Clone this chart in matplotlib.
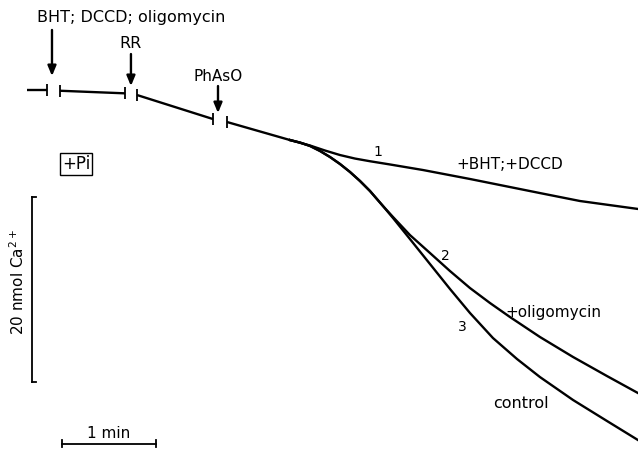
import matplotlib
matplotlib.use("Agg")
import matplotlib.pyplot as plt

# trace segments before the curves split (time in min, Ca2+ signal in nmol)
seg_t = [
    [0.000, 0.213],
    [0.351, 1.043],
    [1.170, 1.979],
    [2.128, 2.798],
]
seg_ca = [
    [0.00, 0.00],
    [-0.08, -0.36],
    [-0.54, -3.14],
    [-3.46, -5.41],
]

# curve 1: +BHT;+DCCD
t1 = [2.798, 3.011, 3.170, 3.330, 3.489, 3.649, 3.862, 4.213, 4.713, 5.457, 5.883, 6.500]
ca1 = [-5.41, -6.00, -6.54, -7.03, -7.41, -7.70, -8.05, -8.65, -9.62, -11.14, -12.00, -12.86]

# common start of curves 2 and 3
t_common = [2.798, 2.904, 3.011, 3.117, 3.223, 3.330, 3.436, 3.543, 3.649, 3.787]
ca_common = [-5.41, -5.68, -6.05, -6.59, -7.24, -8.00, -8.86, -9.84, -10.92, -12.54]

# curve 2: +oligomycin
t2 = [3.894, 4.074, 4.287, 4.500, 4.713, 4.926, 5.138, 5.457, 5.809, 6.170, 6.500]
ca2 = [-13.73, -15.68, -17.62, -19.57, -21.41, -23.03, -24.54, -26.70, -28.86, -30.92, -32.76]

# curve 3: control
t3 = [3.894, 4.074, 4.287, 4.500, 4.713, 4.957, 5.213, 5.457, 5.809, 6.170, 6.500]
ca3 = [-13.84, -16.11, -18.81, -21.51, -24.11, -26.81, -29.08, -31.03, -33.51, -35.78, -37.84]

# additions: label, time of addition
add_labels = ["BHT; DCCD; oligomycin", "RR", "PhAsO"]
add_times = [0.266, 1.106, 2.032]

bar_ca = 20   # nmol Ca2+
bar_t = 1     # min

lw = 1.7
plt.rcParams["font.family"] = "DejaVu Sans"
fig = plt.figure(figsize=(6.38, 4.53), dpi=100)
ax = fig.add_axes([0, 0, 1, 1])
ax.set_xlim(-0.287, 6.500)
ax.set_ylim(-39.24, 9.73)
ax.axis("off")

for i, (ts, cs) in enumerate(zip(seg_t, seg_ca)):
    ax.plot(ts, cs, color="black", lw=lw, solid_capstyle="butt")
    # small end ticks at the breaks
    if i > 0:
        ax.plot(ts[0], cs[0], marker="|", ms=8, mew=1.3, color="black")
    if i < len(seg_t) - 1:
        ax.plot(ts[-1], cs[-1], marker="|", ms=8, mew=1.3, color="black")

ax.plot(t1, ca1, color="black", lw=lw)
ax.plot(t_common + t2, ca_common + ca2, color="black", lw=lw)
ax.plot(t_common + t3, ca_common + ca3, color="black", lw=lw)

# arrows for additions
arrow_tails = [6.49, 3.89, 0.43]
arrow_tips = [1.51, 0.43, -2.49]
for t, tail, tip in zip(add_times, arrow_tails, arrow_tips):
    ax.annotate("", xy=(t, tip), xytext=(t, tail),
                arrowprops=dict(arrowstyle="-|>,head_length=0.6,head_width=0.25",
                                color="black", lw=1.7, shrinkA=0, shrinkB=0))
ax.text(0.106, 7.89, add_labels[0], ha="left", va="center", fontsize=11.5)
ax.text(add_times[1], 5.08, add_labels[1], ha="center", va="center", fontsize=11.5)
ax.text(add_times[2], 1.41, add_labels[2], ha="center", va="center", fontsize=11)

# curve labels
ax.text(3.734, -6.70, "1", ha="center", va="center", fontsize=10)
ax.text(4.564, -8.00, "+BHT;+DCCD", ha="left", va="center", fontsize=11)
ax.text(4.447, -17.95, "2", ha="center", va="center", fontsize=10)
ax.text(5.085, -24.00, "+oligomycin", ha="left", va="center", fontsize=11)
ax.text(4.628, -25.62, "3", ha="center", va="center", fontsize=10)
ax.text(4.957, -33.84, "control", ha="left", va="center", fontsize=11.5)

# +Pi box
ax.text(0.521, -8.00, "+Pi", ha="center", va="center", fontsize=12,
        bbox=dict(boxstyle="square,pad=0.1", fc="white", ec="black", lw=1))

# scale bars
y0 = -11.57
x0 = 0.053
ax.plot([x0, x0], [y0, y0 - bar_ca], color="black", lw=1.3)
ax.plot([x0, x0 + 0.04], [y0, y0], color="black", lw=1.3)
ax.plot([x0, x0 + 0.04], [y0 - bar_ca, y0 - bar_ca], color="black", lw=1.3)
ax.text(-0.096, y0 - bar_ca / 2 + 0.8, "20 nmol Ca$^{2+}$", rotation=90,
        ha="center", va="center", fontsize=11)

tb = 0.372
yb = -38.27
ax.plot([tb, tb + bar_t], [yb, yb], color="black", lw=1.3)
ax.plot([tb, tb], [yb - 0.3, yb + 0.4], color="black", lw=1.3)
ax.plot([tb + bar_t, tb + bar_t], [yb - 0.3, yb + 0.4], color="black", lw=1.3)
ax.text(tb + bar_t / 2, -37.08, "1 min", ha="center", va="center", fontsize=11)

fig.savefig("out.png", dpi=100)
